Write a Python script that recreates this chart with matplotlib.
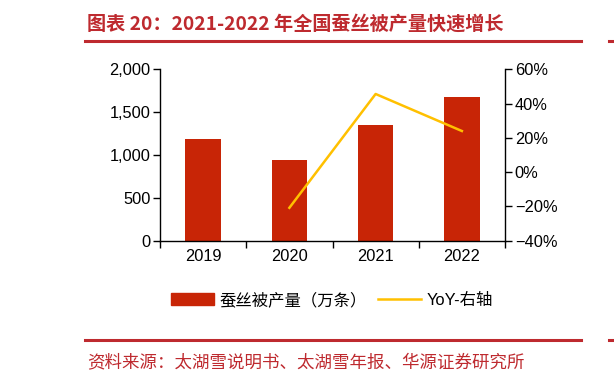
import matplotlib
matplotlib.use("Agg")
import matplotlib.pyplot as plt
from matplotlib.patches import Patch
from matplotlib.lines import Line2D
import numpy as np

plt.rcParams['font.family'] = ['Liberation Sans', 'Noto Sans CJK SC', 'DejaVu Sans']

years = ['2019', '2020', '2021', '2022']
production = [1190, 942, 1352, 1676]          # 万条
yoy = [None, -20.8, 45.6, 24.0]               # %
left_ticks = [0, 500, 1000, 1500, 2000]
right_ticks = [-40, -20, 0, 20, 40, 60]

title = '图表 20：2021-2022 年全国蚕丝被产量快速增长'
source = '资料来源：太湖雪说明书、太湖雪年报、华源证券研究所'
bar_label = '蚕丝被产量（万条）'
line_label = 'YoY-右轴'

RED_T = '#BE2A2F'
BAR = '#C82506'
YEL = '#FFC000'

W, H = 614, 377
fig = plt.figure(figsize=(W/100, H/100), dpi=100)

ax = fig.add_axes([160/W, 1-240.7/H, (505-160)/W, (240.7-69.3)/H])
x = np.arange(len(years))
ax.bar(x, production, width=0.41, color=BAR, zorder=2)
ax.set_xlim(-0.5, len(years)-0.5)
ax.set_ylim(0, 2000)
ax.set_yticks(left_ticks)
ax.set_yticklabels([f'{v:,}' for v in left_ticks], fontsize=11.8)
ax.set_xticks(x)
ax.set_xticklabels(years, fontsize=11.8)
ax.set_xticks(np.arange(-0.5, len(years), 1.0), minor=True)
ax.tick_params(axis='x', which='major', length=0, pad=6)
ax.tick_params(axis='x', which='minor', length=5, direction='out', width=1)
ax.tick_params(axis='y', length=5, width=1, direction='out', pad=2)
for s in ['top', 'right']:
    ax.spines[s].set_visible(False)
ax.spines['left'].set_linewidth(1)
ax.spines['bottom'].set_linewidth(1)

ax2 = ax.twinx()
xs = [i for i, v in enumerate(yoy) if v is not None]
ys = [v for v in yoy if v is not None]
ax2.plot(xs, ys, color=YEL, lw=1.8, zorder=3)
ax2.set_ylim(-40, 60)
ax2.set_yticks(right_ticks)
ax2.set_yticklabels([f'{v}%'.replace('-', '−') for v in right_ticks], fontsize=11.8)
ax2.tick_params(axis='y', length=5, width=1, direction='out', pad=2)
for s in ['top', 'left', 'bottom']:
    ax2.spines[s].set_visible(False)
ax2.spines['right'].set_linewidth(1)

handles = [Patch(facecolor=BAR, edgecolor=BAR), Line2D([0], [0], color=YEL, lw=1.8)]
fig.legend(handles, [bar_label, line_label], loc='center',
           bbox_to_anchor=(332/W, 1-300/H), ncol=2, frameon=False,
           handlelength=2.6, handletextpad=0.35, columnspacing=0.7,
           prop={'family': ['Liberation Sans', 'Noto Sans CJK SC'], 'size': 11.8})

# header
fig.text(87/W, 1-24/H, title, color=RED_T, fontsize=13.8, fontweight='bold',
         family=['Noto Sans CJK SC', 'DejaVu Sans'], va='center', ha='left')
fig.add_artist(Line2D([85/W, 581/W], [1-41/H, 1-41/H], color=RED_T, lw=2.2))
fig.add_artist(Line2D([609/W, 614/W], [1-41/H, 1-41/H], color=RED_T, lw=2.2))
# footer
fig.add_artist(Line2D([85/W, 581/W], [1-340/H, 1-340/H], color=RED_T, lw=2.2))
fig.add_artist(Line2D([609/W, 614/W], [1-340/H, 1-340/H], color=RED_T, lw=2.2))
fig.text(87/W, 1-362/H, source, color=RED_T, fontsize=12.6,
         family=['Noto Sans CJK SC', 'DejaVu Sans'], va='center', ha='left')

fig.savefig('out.png', dpi=100)
